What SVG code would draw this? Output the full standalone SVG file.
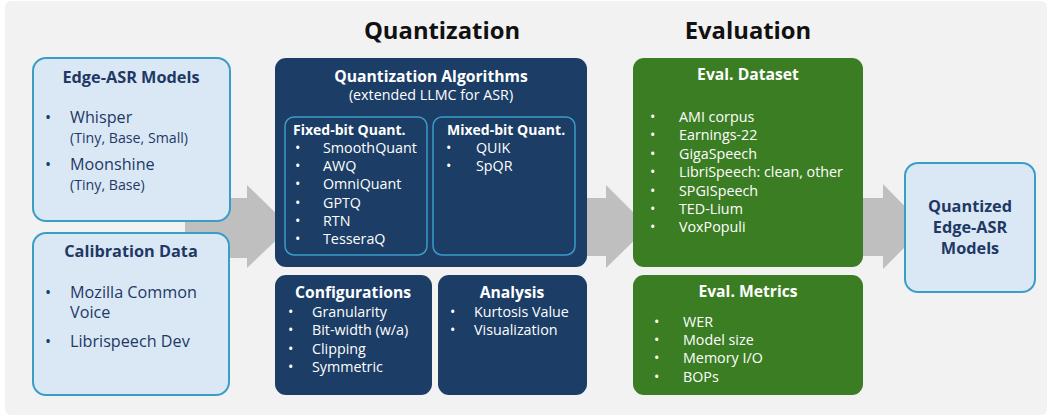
<svg xmlns="http://www.w3.org/2000/svg" width="1047" height="418" viewBox="0 0 1047 418">
<style>
text{font-family:"Open Sans","Liberation Sans",sans-serif}
.lb{fill:#dae8f6;stroke:#3a9dc6;stroke-width:2}
.nv{fill:#1b3d66}
.gr{fill:#3b7d23}
.inb{fill:#1b3d66;stroke:#3a9dc6;stroke-width:1.5}
.arr{fill:#bfbfbf}
.ht{font-size:23.8px;font-weight:700;fill:#111}
.lt{font-size:16.3px;font-weight:700;fill:#1f3864}
.li{font-size:16.2px;fill:#1f3864}
.ls{font-size:14.2px;fill:#1f3864}
.wt{font-size:15.7px;font-weight:700;fill:#fff}
.ws{font-size:14px;font-weight:700;fill:#fff}
.wi{font-size:14.3px;fill:#fff}
.c{text-anchor:middle}
</style>
<rect x="5" y="1" width="1042" height="414" rx="6" fill="#f2f2f2"/>
<g id="connectors">
<path class="arr" d="M185 198 H247 V185 L290 227 L247 268 V258 H185 Z"/>
<path class="arr" d="M580 198 H606 V185 L648 227 L606 268 V256 H580 Z"/>
<path class="arr" d="M855 198 H883 V184 L925 227 L883 269 V256 H855 Z"/>
</g>
<text class="ht c" x="442" y="39">Quantization</text>
<text class="ht c" x="748" y="39">Evaluation</text>
<g id="edge-asr-models">
<rect class="lb" x="33" y="58" width="197" height="163" rx="13"/>
<text class="lt c" x="131" y="83">Edge-ASR Models</text>
<text class="li" x="45" y="123">•</text><text class="li" x="70" y="123">Whisper</text>
<text class="ls" x="70" y="143">(Tiny, Base, Small)</text>
<text class="li" x="45" y="170">•</text><text class="li" x="70" y="170">Moonshine</text>
<text class="ls" x="70" y="190">(Tiny, Base)</text>
</g>
<g id="calibration-data">
<rect class="lb" x="33" y="233" width="196" height="162" rx="13"/>
<text class="lt c" x="131" y="257">Calibration Data</text>
<text class="li" x="45" y="298">•</text><text class="li" x="70" y="298">Mozilla Common</text>
<text class="li" x="70" y="318">Voice</text>
<text class="li" x="45" y="347">•</text><text class="li" x="70" y="347">Librispeech Dev</text>
</g>
<g id="quantization-algorithms">
<rect class="nv" x="275" y="58" width="312" height="209" rx="11"/>
<text class="wt c" x="431" y="82">Quantization Algorithms</text>
<text class="wi c" x="431" y="100">(extended LLMC for ASR)</text>
<g id="fixed-bit">
<rect class="inb" x="285" y="117" width="142" height="138" rx="9"/>
<text class="ws" x="293" y="135">Fixed-bit Quant.</text>
<text class="wi" x="295" y="153">•</text><text class="wi" x="323" y="153">SmoothQuant</text>
<text class="wi" x="295" y="171">•</text><text class="wi" x="323" y="171">AWQ</text>
<text class="wi" x="295" y="189">•</text><text class="wi" x="323" y="189">OmniQuant</text>
<text class="wi" x="295" y="208">•</text><text class="wi" x="323" y="208">GPTQ</text>
<text class="wi" x="295" y="226">•</text><text class="wi" x="323" y="226">RTN</text>
<text class="wi" x="295" y="244">•</text><text class="wi" x="323" y="244">TesseraQ</text>
</g>
<g id="mixed-bit">
<rect class="inb" x="433" y="117" width="142" height="138" rx="9"/>
<text class="ws" x="447" y="135">Mixed-bit Quant.</text>
<text class="wi" x="446" y="153">•</text><text class="wi" x="476" y="153">QUIK</text>
<text class="wi" x="446" y="171">•</text><text class="wi" x="476" y="171">SpQR</text>
</g>
</g>
<g id="configurations">
<rect class="nv" x="275" y="275" width="157" height="120" rx="11"/>
<text class="wt c" x="353" y="298">Configurations</text>
<text class="wi" x="288" y="317">•</text><text class="wi" x="312" y="317">Granularity</text>
<text class="wi" x="288" y="335">•</text><text class="wi" x="312" y="335">Bit-width (w/a)</text>
<text class="wi" x="288" y="354">•</text><text class="wi" x="312" y="354">Clipping</text>
<text class="wi" x="288" y="372">•</text><text class="wi" x="312" y="372">Symmetric</text>
</g>
<g id="analysis">
<rect class="nv" x="438" y="275" width="149" height="120" rx="11"/>
<text class="wt c" x="512" y="298">Analysis</text>
<text class="wi" x="450" y="317">•</text><text class="wi" x="474" y="317">Kurtosis Value</text>
<text class="wi" x="450" y="335">•</text><text class="wi" x="474" y="335">Visualization</text>
</g>
<g id="eval-dataset">
<rect class="gr" x="633" y="58" width="230" height="209" rx="11"/>
<text class="wt c" x="748" y="80">Eval. Dataset</text>
<text class="wi" x="650" y="122">•</text><text class="wi" x="679" y="122">AMI corpus</text>
<text class="wi" x="650" y="140">•</text><text class="wi" x="679" y="140">Earnings-22</text>
<text class="wi" x="650" y="159">•</text><text class="wi" x="679" y="159">GigaSpeech</text>
<text class="wi" x="650" y="177">•</text><text class="wi" x="679" y="177">LibriSpeech: clean, other</text>
<text class="wi" x="650" y="196">•</text><text class="wi" x="679" y="196">SPGISpeech</text>
<text class="wi" x="650" y="214">•</text><text class="wi" x="679" y="214">TED-Lium</text>
<text class="wi" x="650" y="232">•</text><text class="wi" x="679" y="232">VoxPopuli</text>
</g>
<g id="eval-metrics">
<rect class="gr" x="633" y="275" width="230" height="120" rx="11"/>
<text class="wt c" x="748" y="297">Eval. Metrics</text>
<text class="wi" x="654" y="327">•</text><text class="wi" x="683" y="327">WER</text>
<text class="wi" x="654" y="345">•</text><text class="wi" x="683" y="345">Model size</text>
<text class="wi" x="654" y="363">•</text><text class="wi" x="683" y="363">Memory I/O</text>
<text class="wi" x="654" y="382">•</text><text class="wi" x="683" y="382">BOPs</text>
</g>
<g id="quantized-models">
<rect class="lb" x="905" y="163" width="130" height="129" rx="13"/>
<text class="lt c" x="970" y="212">Quantized</text>
<text class="lt c" x="970" y="233">Edge-ASR</text>
<text class="lt c" x="970" y="254">Models</text>
</g>
</svg>
